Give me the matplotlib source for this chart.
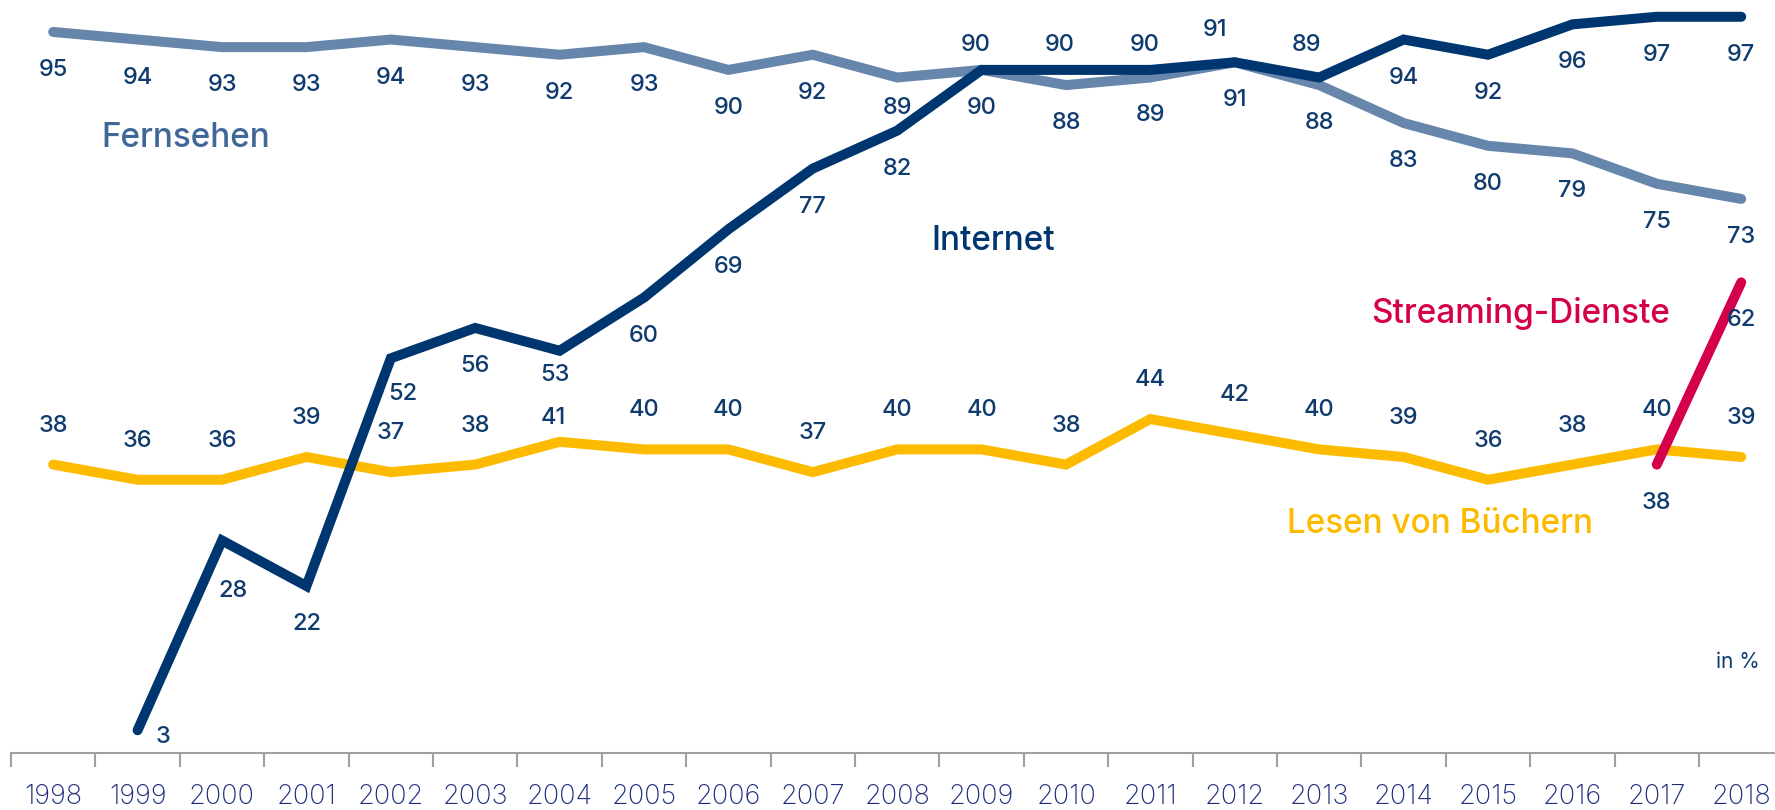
import numpy as np
import matplotlib.pyplot as plt

plt.rcParams['font.family'] = ['Inter', 'DejaVu Sans']

# Anteil in Prozent, 1998-2018
years = list(range(1998, 2019))
fernsehen = [95, 94, 93, 93, 94, 93, 92, 93, 90, 92, 89, 90, 88, 89, 91, 88, 83, 80, 79, 75, 73]
internet_years = list(range(1999, 2019))
internet = [3, 28, 22, 52, 56, 53, 60, 69, 77, 82, 90, 90, 90, 91, 89, 94, 92, 96, 97, 97]
lesen = [38, 36, 36, 39, 37, 38, 41, 40, 40, 37, 40, 40, 38, 44, 42, 40, 39, 36, 38, 40, 39]
streaming_years = [2017, 2018]
streaming = [38, 62]

# label offsets in pixels (dx, dy), positive dy = up
fern_off = [(0, -38)] * len(fernsehen)
fern_off[10] = (0, -31)
int_off = [(0, -38)] * len(internet)
int_off[0] = (25, -7)      # 1999
int_off[1] = (11, -51)     # 2000
int_off[3] = (12, -36)     # 2002
int_off[5] = (-5, -24)     # 2004
for i in range(10, 13):    # 2009-2011
    int_off[i] = (-6, 25)
int_off[13] = (-20, 32)    # 2012
int_off[14] = (-13, 32)    # 2013
les_off = [(0, 39)] * len(lesen)
les_off[6] = (-6, 24)      # 2004
str_off = [(0, -38), (0, -38)]

C_FERN = '#6686ac'
C_INT = '#003670'
C_LES = '#fdbb00'
C_STR = '#d5004c'
C_TXT = '#0f3b6e'
C_YEAR = '#1c2b7d'

W, H = 1775, 810
fig = plt.figure(figsize=(W / 100, H / 100), dpi=100)
ax = fig.add_axes([11 / W, 57 / H, 1 - 11 / W, 753 / H])
ax.set_xlim(1997.5, 1997.5 + 1764 / 84.4)
ax.set_ylim(0, 753 / 7.59)

lw = 7.2
ax.plot(years, fernsehen, color=C_FERN, lw=lw, solid_capstyle='round', solid_joinstyle='miter', zorder=2)
ax.plot(years, lesen, color=C_LES, lw=lw, solid_capstyle='round', solid_joinstyle='miter', zorder=2)
ax.plot(internet_years, internet, color=C_INT, lw=lw, solid_capstyle='round', solid_joinstyle='miter', zorder=3)
ax.plot(streaming_years, streaming, color=C_STR, lw=lw, solid_capstyle='round', zorder=4)


def value_labels(xs, ys, offs):
    for x, y, (dx, dy) in zip(xs, ys, offs):
        ax.annotate(str(y), (x, y), xytext=(dx * 0.72, dy * 0.72), textcoords='offset points',
                    ha='center', va='center', fontsize=17, fontweight='medium',
                    color=C_TXT, zorder=5)


value_labels(years, fernsehen, fern_off)
value_labels(internet_years, internet, int_off)
value_labels(years, lesen, les_off)
value_labels(streaming_years, streaming, str_off)

# series names
for name, (x, y), col in [('Fernsehen', (186, 138), '#3f6798'),
                          ('Internet', (993, 241), C_INT),
                          ('Streaming-Dienste', (1521, 313), C_STR),
                          ('Lesen von Büchern', (1440, 524), C_LES)]:
    fig.text(x / W, 1 - y / H, name, ha='center', va='center', fontsize=24,
             fontweight='medium', color=col)

fig.text(1738 / W, 1 - 662 / H, 'in %', ha='center', va='center', fontsize=15, color=C_TXT)

# axis: boundary ticks between years, labels centred on years
for s in ['top', 'right', 'left']:
    ax.spines[s].set_visible(False)
ax.spines['bottom'].set_color('#a0a0a0')
ax.spines['bottom'].set_linewidth(1.5)
ax.set_yticks([])
ax.set_xticks(np.arange(1997.5, 2018, 1.0))
ax.set_xticklabels([])
ax.tick_params(axis='x', which='major', length=10, width=1.5, color='#a0a0a0', direction='out')
ax.set_xticks(years, minor=True)
ax.set_xticklabels([str(y) for y in years], minor=True)
ax.tick_params(axis='x', which='minor', length=0, pad=22, labelsize=19.5, labelcolor=C_YEAR)
for t in ax.get_xticklabels(minor=True):
    t.set_fontweight('light')

fig.savefig('out.png', dpi=100)
